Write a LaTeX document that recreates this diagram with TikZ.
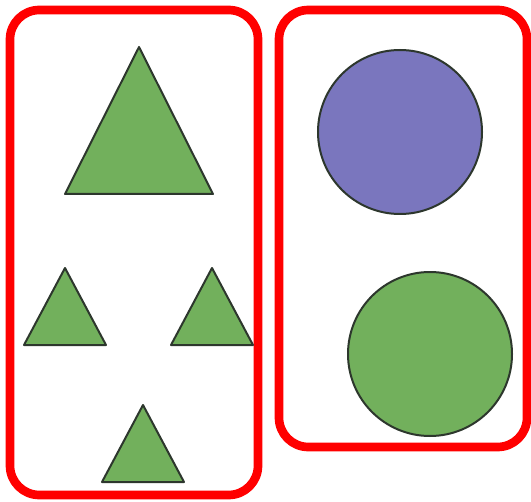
\documentclass[tikz,border=0pt]{standalone}
\usepackage{tikz}

\definecolor{leafgreen}{RGB}{114,176,92}
\definecolor{lilac}{RGB}{122,118,190}
\definecolor{outline}{RGB}{45,55,45}

\begin{document}
\begin{tikzpicture}[x=0.75pt, y=-0.75pt,
                frame/.style={draw=red, line width=6.5pt, rounded corners=22pt},
                piece/.style={draw=outline, line width=1.5pt, line join=round},
                tri/.style={piece, fill=leafgreen}
            ]
                \useasboundingbox (0,0) rectangle (531,502);
                % the two boxes
                \draw[frame] (10,10) rectangle (258,495);
                \draw[frame] (279,10) rectangle (527,447);
                % triangles
                \draw[tri] (139,47) -- (65,194) -- (213,194) -- cycle;
                \foreach \x/\y in {65/268, 212/268, 143/405}
                    \draw[tri] (\x,\y) -- ++(-41,77) -- ++(82,0) -- cycle;
                % circles
                \draw[piece, fill=lilac] (400,132) circle (82);
                \draw[piece, fill=leafgreen] (430,354) circle (82);
            \end{tikzpicture}
\end{document}
